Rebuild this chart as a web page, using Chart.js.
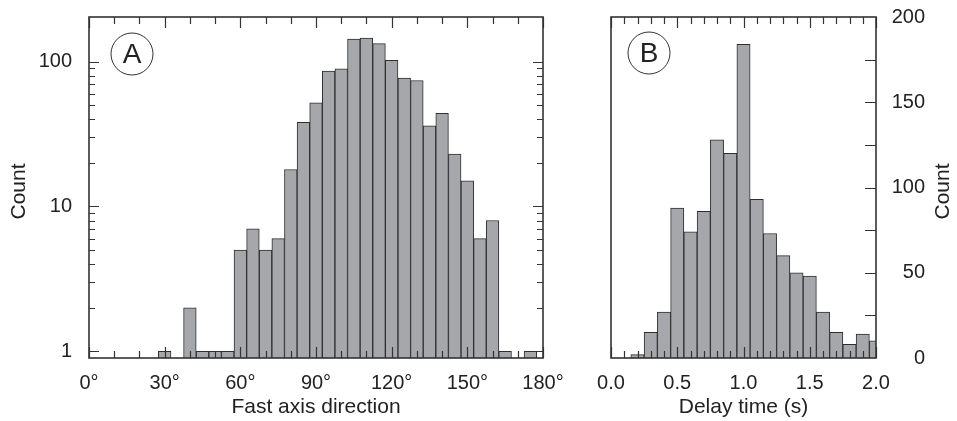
<!DOCTYPE html>
<html>
<head>
<meta charset="utf-8">
<script src="https://cdn.jsdelivr.net/npm/chart.js@4.4.0/dist/chart.umd.min.js"></script>
<style>
  html, body { margin: 0; padding: 0; background: #fff; }
  #wrap { position: relative; width: 957px; height: 421px; }
  #chartA { position: absolute; left: 0; top: 0; }
  #chartB { position: absolute; left: 560px; top: 0; }
</style>
</head>
<body>
<div id="wrap">
  <canvas id="chartA" width="585" height="421"></canvas>
  <canvas id="chartB" width="397" height="421"></canvas>
</div>
<script>
// panel A: fast axis direction (5 degree bins, centres)
const directionBins = [0, 5, 10, 15, 20, 25, 30, 35, 40, 45, 50, 55, 60, 65, 70, 75, 80, 85,
  90, 95, 100, 105, 110, 115, 120, 125, 130, 135, 140, 145, 150, 155, 160, 165, 170, 175];
const directionCounts = [null, null, null, null, null, null, 1, null, 2, 1, 1, 1, 5, 7, 5, 6, 18, 38,
  52, 86, 89, 143, 145, 133, 102, 77, 74, 36, 44, 23, 15, 6, 8, 1, null, 1];
const countTicksA = [1, 10, 100];

// panel B: delay time (0.1 s bins, centres)
const delayBins = [0.2, 0.3, 0.4, 0.5, 0.6, 0.7, 0.8, 0.9, 1.0, 1.1, 1.2, 1.3, 1.4, 1.5, 1.6, 1.7, 1.8, 1.9, 2.0];
const delayCounts = [2, 15, 27, 88, 74, 86, 128, 120, 184, 93, 73, 60, 50, 48, 27, 15, 8, 14, 10];

const FONT = '"Liberation Sans", Arial, Helvetica, sans-serif';
const BAR = '#a6a7aa';
const EDGE = '#2e2e2e';
const INK = '#222';

Chart.defaults.font.family = FONT;
Chart.defaults.font.size = 20;
Chart.defaults.color = INK;

// keep the plot area where it is: no extra room for overhanging labels
function fixBox(s, w, h) {
  if (w) s.width = w;
  if (h) s.height = h;
  s.paddingLeft = s.paddingRight = s.paddingTop = s.paddingBottom = 0;
}

// frame, inward tick marks, circled panel letter and the upright "Count" title
function makeFrame(cfg) {
  return {
    id: 'frame' + cfg.letter,
    afterDatasetsDraw(chart) {
      const { ctx, chartArea: a } = chart;
      const xs = chart.scales.x, ys = chart.scales.y;
      ctx.save();
      ctx.strokeStyle = '#333';
      ctx.lineWidth = 1.2;
      ctx.beginPath();
      cfg.xMarks.forEach(([v, len]) => {
        const px = Math.round(xs.getPixelForValue(v)) + 0.5;
        ctx.moveTo(px, a.bottom); ctx.lineTo(px, a.bottom - len);
        ctx.moveTo(px, a.top); ctx.lineTo(px, a.top + len);
      });
      cfg.yMarks.forEach(([v, len]) => {
        const py = Math.round(ys.getPixelForValue(v)) + 0.5;
        if (cfg.left) { ctx.moveTo(a.left, py); ctx.lineTo(a.left + len, py); }
        if (cfg.right) { ctx.moveTo(a.right, py); ctx.lineTo(a.right - len, py); }
      });
      ctx.stroke();
      ctx.lineWidth = 1.6;
      ctx.strokeRect(a.left, a.top, a.right - a.left, a.bottom - a.top);

      const cx = a.left + cfg.dx, cy = a.top + cfg.dy;
      ctx.lineWidth = 1;
      ctx.beginPath();
      ctx.arc(cx, cy, 21, 0, Math.PI * 2);
      ctx.stroke();
      ctx.fillStyle = INK;
      ctx.font = '28px ' + FONT;
      ctx.textAlign = 'center';
      ctx.textBaseline = 'middle';
      ctx.fillText(cfg.letter, cx, cy + 1);

      ctx.font = '21px ' + FONT;
      ctx.translate(cfg.titleX, (a.top + a.bottom) / 2 + 4);
      ctx.rotate(-Math.PI / 2);
      ctx.fillText('Count', 0, 0);
      ctx.restore();
    }
  };
}

const marksAx = [];
for (let v = 0; v <= 180; v += 10) marksAx.push([v, v % 30 === 0 ? 11 : 7]);
const marksAy = [];
[1, 10, 100].forEach(d => {
  marksAy.push([d, 10]);
  if (d < 100) for (let k = 2; k <= 9; k++) marksAy.push([d * k, 6]);
});

const marksBx = [];
for (let i = 0; i <= 20; i++) marksBx.push([i / 10, i % 5 === 0 ? 11 : 7]);
const marksBy = [];
for (let v = 25; v < 200; v += 25) marksBy.push([v, 11]);

new Chart(document.getElementById('chartA'), {
  type: 'bar',
  data: {
    datasets: [{
      data: directionBins.map((b, i) => ({ x: b, y: directionCounts[i] })),
      backgroundColor: BAR,
      borderColor: EDGE,
      borderWidth: 1,
      barPercentage: 1,
      categoryPercentage: 1
    }]
  },
  options: {
    responsive: false,
    animation: false,
    devicePixelRatio: 1,
    layout: { padding: { top: 17, right: 42, left: 0, bottom: 0 } },
    plugins: { legend: { display: false }, tooltip: { enabled: false } },
    scales: {
      x: {
        type: 'linear', min: 0, max: 180, offset: false,
        grid: { display: false, drawTicks: false, offset: false },
        border: { display: false },
        ticks: { stepSize: 30, padding: 13, maxRotation: 0, autoSkip: false, callback: v => v + '°' },
        title: { display: true, text: 'Fast axis direction', font: { size: 21 }, padding: { top: 0, bottom: 1 } },
        afterFit(s) { fixBox(s, 0, 63); }
      },
      y: {
        type: 'logarithmic', min: 0.9, max: 203, bounds: 'data', beginAtZero: false,
        grid: { display: false, drawTicks: false },
        border: { display: false },
        afterBuildTicks(s) { s.ticks = countTicksA.map(v => ({ value: v })); },
        ticks: { padding: 17, callback: v => String(v) },
        afterFit(s) { fixBox(s, 89, 0); }
      }
    }
  },
  plugins: [makeFrame({ letter: 'A', dx: 43, dy: 37, xMarks: marksAx, yMarks: marksAy, left: true, right: true,
    titleX: 19.5 })]
});

new Chart(document.getElementById('chartB'), {
  type: 'bar',
  data: {
    datasets: [{
      data: delayBins.map((b, i) => ({ x: b, y: delayCounts[i] })),
      backgroundColor: BAR,
      borderColor: EDGE,
      borderWidth: 1,
      barPercentage: 1,
      categoryPercentage: 1
    }]
  },
  options: {
    responsive: false,
    animation: false,
    devicePixelRatio: 1,
    layout: { padding: { top: 17, right: 0, left: 51, bottom: 0 } },
    plugins: { legend: { display: false }, tooltip: { enabled: false } },
    scales: {
      x: {
        type: 'linear', min: 0, max: 2, offset: false,
        grid: { display: false, drawTicks: false, offset: false },
        border: { display: false },
        ticks: { stepSize: 0.5, padding: 13, maxRotation: 0, autoSkip: false, callback: v => Number(v).toFixed(1) },
        title: { display: true, text: 'Delay time (s)', font: { size: 21 }, padding: { top: 0, bottom: 1 } },
        afterFit(s) { fixBox(s, 0, 63); }
      },
      y: {
        position: 'right', min: 0, max: 200,
        grid: { display: false, drawTicks: false },
        border: { display: false },
        // mirrored labels pushed out past the frame, right-aligned
        ticks: { stepSize: 50, mirror: true, padding: 49 },
        afterFit(s) { fixBox(s, 81, 0); }
      }
    }
  },
  plugins: [makeFrame({ letter: 'B', dx: 38, dy: 36, xMarks: marksBx, yMarks: marksBy, left: false, right: true,
    titleX: 383 })]
});
</script>
</body>
</html>
